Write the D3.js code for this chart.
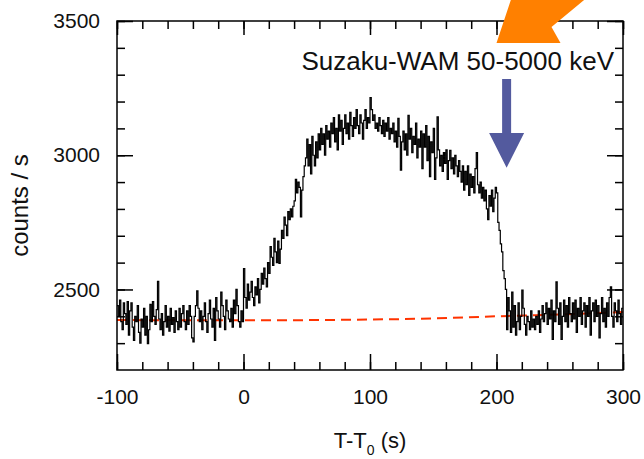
<!DOCTYPE html>
<html lang="en">
<head>
<meta charset="UTF-8">
<title>Suzaku-WAM light curve</title>
<script src="https://d3js.org/d3.v7.min.js"></script>
<style>
  body { margin: 0; background: #fff; }
  text { font-family: "Liberation Sans", Arial, sans-serif; fill: #111; }
</style>
</head>
<body>
<svg id="chart" width="644" height="459"></svg>
<script>
// light curve, 1 s bins starting at T-T0 = -100 s
const binStart = -100;
const binWidth = 1;
const counts = [
  2440, 2400, 2460, 2380, 2350, 2450, 2410, 2370, 2455, 2330,
  2420, 2450, 2360, 2310, 2400, 2380, 2440, 2340, 2300, 2390,
  2360, 2430, 2330, 2400, 2298, 2350, 2445, 2380, 2455, 2400,
  2370, 2425, 2530, 2390, 2350, 2410, 2330, 2380, 2440, 2360,
  2400, 2345, 2430, 2370, 2395, 2340, 2420, 2380, 2350, 2430,
  2360, 2410, 2440, 2380, 2350, 2420, 2370, 2440, 2400, 2320,
  2305, 2400, 2440, 2495, 2430, 2380, 2420, 2350, 2400, 2450,
  2380, 2340, 2410, 2460, 2390, 2360, 2430, 2310, 2470, 2420,
  2390, 2360, 2490, 2440, 2400, 2350, 2460, 2420, 2390, 2380,
  2430, 2360, 2460, 2410, 2500, 2440, 2380, 2360, 2420, 2380,
  2578, 2470, 2430, 2520, 2460, 2490, 2530, 2470, 2440, 2510,
  2480, 2540, 2450, 2500, 2560, 2520, 2580, 2540, 2510, 2600,
  2560, 2660, 2620, 2590, 2690, 2640, 2600, 2680, 2597, 2650,
  2720, 2690, 2770, 2740, 2700, 2790, 2760, 2800, 2770, 2810,
  2830, 2910, 2860, 2900, 2880, 2770, 2870, 2920, 2960, 2990,
  3060, 2960, 3040, 2930, 3070, 3000, 2960, 3050, 2990, 3080,
  3020, 3100, 3040, 3080, 3000, 3110, 3060, 3090, 3030, 3120,
  3080, 3140, 3050, 3100, 3020, 3150, 3090, 3130, 3040, 3100,
  3150, 3080, 3120, 3060, 3160, 3110, 3070, 3140, 3100, 3170,
  3110, 3080, 3150, 3120, 3060, 3130, 3170, 3100, 3140, 3120,
  3215, 3170, 3130, 3150, 3100, 3120, 3090, 3140, 3110, 3080,
  3130, 3070, 3120, 3090, 3140, 3060, 3100, 3080, 3120, 3050,
  3090, 3030, 3137, 3070, 2944, 3050, 3090, 3020, 3080, 3000,
  3149, 3060, 3100, 3010, 3070, 3040, 3120, 2990, 3060, 3030,
  3090, 2950, 3080, 3030, 3110, 2980, 3070, 2920, 3050, 3010,
  3100, 2910, 2990, 3143, 3020, 2960, 3000, 2940, 3010, 2970,
  3020, 2910, 2980, 3018, 2950, 2990, 2930, 3000, 2960, 2920,
  2980, 2940, 2900, 2960, 2870, 2940, 2890, 2960, 2850, 2930,
  2880, 2920, 2860, 2950, 3010, 2890, 2860, 2900, 2840, 2880,
  2830, 2870, 2800, 2760, 2850, 2810, 2870, 2790, 2840, 2880,
  2860, 2750, 2720, 2670, 2640, 2570, 2540, 2500, 2350, 2470,
  2420, 2340, 2490, 2360, 2440, 2330, 2380, 2450, 2350, 2400,
  2498, 2430, 2370, 2330, 2400, 2380, 2350, 2420, 2360, 2390,
  2350, 2400, 2370, 2420, 2340, 2390, 2440, 2380, 2410, 2450,
  2370, 2430, 2390, 2460, 2314, 2420, 2380, 2528, 2430, 2370,
  2450, 2314, 2400, 2460, 2380, 2440, 2360, 2470, 2410, 2380,
  2450, 2390, 2460, 2340, 2430, 2400, 2470, 2370, 2420, 2450,
  2360, 2440, 2400, 2470, 2330, 2420, 2450, 2380, 2460, 2400,
  2440, 2320, 2410, 2470, 2380, 2430, 2360, 2450, 2400, 2470,
  2510, 2400, 2360, 2450, 2420, 2380, 2460, 2410, 2370, 2430
];

// background model (red dashed)
const bgTime = [-100, 0, 100, 150, 200, 250, 300];
const bgCounts = [2386, 2385, 2388, 2392, 2400, 2407, 2416];

const xTicks = [-100, 0, 100, 200, 300];
const yTicks = [2500, 3000, 3500];
const label = 'Suzaku-WAM 50-5000 keV';

const width = 644, height = 459;
const margin = { top: 21, right: 21, bottom: 89, left: 117 };
const font = '"Liberation Sans", Arial, sans-serif';

const svg = d3.select('#chart');

const x = d3.scaleLinear()
  .domain([-100, 300])
  .range([margin.left, width - margin.right]);

const y = d3.scaleLinear()
  .domain([2200, 3500])
  .range([height - margin.bottom, margin.top]);

const lc = counts.map((c, i) => ({ t: binStart + i * binWidth, c }));
lc.push({ t: binStart + counts.length * binWidth, c: counts[counts.length - 1] });

// background
svg.append('path')
  .datum(bgTime.map((t, i) => ({ t, c: bgCounts[i] })))
  .attr('fill', 'none')
  .attr('stroke', '#ff3300')
  .attr('stroke-width', 2)
  .attr('stroke-dasharray', '10,6')
  .attr('d', d3.line().x(d => x(d.t)).y(d => y(d.c)).curve(d3.curveMonotoneX));

// light curve
svg.append('path')
  .datum(lc)
  .attr('fill', 'none')
  .attr('stroke', '#000')
  .attr('stroke-width', 1.2)
  .attr('d', d3.line().x(d => x(d.t)).y(d => y(d.c)).curve(d3.curveStepAfter));

// axes - ticks inward on all four sides
const x0 = x.range()[0], x1 = x.range()[1];
const y0 = y.range()[0], y1 = y.range()[1];

svg.append('g')
  .attr('transform', `translate(0,${y0})`)
  .call(d3.axisBottom(x).tickValues(d3.range(-100, 301, 20)).tickSizeInner(-8).tickSizeOuter(0).tickFormat(''))
  .call(g => g.select('.domain').remove());
svg.append('g')
  .attr('transform', `translate(0,${y0})`)
  .call(d3.axisBottom(x).tickValues(xTicks).tickSizeInner(-16).tickSizeOuter(0).tickPadding(19).tickFormat(d => d))
  .call(g => g.select('.domain').remove())
  .call(g => g.selectAll('text').attr('font-size', 21).attr('font-family', font));

svg.append('g')
  .attr('transform', `translate(0,${y1})`)
  .call(d3.axisTop(x).tickValues(d3.range(-100, 301, 20)).tickSizeInner(-8).tickSizeOuter(0).tickFormat(''))
  .call(g => g.select('.domain').remove());
svg.append('g')
  .attr('transform', `translate(0,${y1})`)
  .call(d3.axisTop(x).tickValues(xTicks).tickSizeInner(-14).tickSizeOuter(0).tickFormat(''))
  .call(g => g.select('.domain').remove());

svg.append('g')
  .attr('transform', `translate(${x0},0)`)
  .call(d3.axisLeft(y).tickValues(d3.range(2300, 3501, 100)).tickSizeInner(-8).tickSizeOuter(0).tickFormat(''))
  .call(g => g.select('.domain').remove());
svg.append('g')
  .attr('transform', `translate(${x0},0)`)
  .call(d3.axisLeft(y).tickValues(yTicks).tickSizeInner(-16).tickSizeOuter(0).tickPadding(17).tickFormat(d => d))
  .call(g => g.select('.domain').remove())
  .call(g => g.selectAll('text').attr('font-size', 21).attr('font-family', font));

svg.append('g')
  .attr('transform', `translate(${x1},0)`)
  .call(d3.axisRight(y).tickValues(d3.range(2300, 3501, 100)).tickSizeInner(-8).tickSizeOuter(0).tickFormat(''))
  .call(g => g.select('.domain').remove());
svg.append('g')
  .attr('transform', `translate(${x1},0)`)
  .call(d3.axisRight(y).tickValues(yTicks).tickSizeInner(-16).tickSizeOuter(0).tickFormat(''))
  .call(g => g.select('.domain').remove());

svg.selectAll('.tick line').attr('stroke', '#000').attr('stroke-width', 1.5);

svg.append('rect')
  .attr('x', x0).attr('y', y1)
  .attr('width', x1 - x0).attr('height', y0 - y1)
  .attr('fill', 'none')
  .attr('stroke', '#000')
  .attr('stroke-width', 1.5);

// axis titles
const xt = svg.append('text')
  .attr('x', x(100))
  .attr('y', 448)
  .attr('text-anchor', 'middle')
  .attr('font-size', 22);
xt.append('tspan').text('T-T');
xt.append('tspan').attr('font-size', 14).attr('dy', 7).text('0');
xt.append('tspan').attr('dy', -7).text(' (s)');

svg.append('text')
  .attr('transform', `translate(28,${(y0 + y1) / 2 + 10}) rotate(-90)`)
  .attr('text-anchor', 'middle')
  .attr('font-size', 24)
  .text('counts / s');

// instrument label
svg.append('text')
  .attr('x', 614)
  .attr('y', 70)
  .attr('text-anchor', 'end')
  .attr('font-size', 26)
  .text(label);

// blue arrow marking end of emission
const ax = x(208), aTop = y(3284), aHead = y(3083), aTip = y(2953);
svg.append('path')
  .attr('fill', '#535a9e')
  .attr('d', `M${ax - 4.5},${aTop} L${ax + 4.5},${aTop} L${ax + 4.5},${aHead} L${ax + 17.5},${aHead} L${ax},${aTip} L${ax - 17.5},${aHead} L${ax - 4.5},${aHead} Z`);

// orange arrow from top-right corner
const ox = x(200), oy = y(3418);
svg.append('path')
  .attr('fill', '#ff8000')
  .attr('d', `M${ox},${oy} L${ox + 64},${oy} L${ox + 55},${oy - 16} L${ox + 90},${oy - 45} L${ox + 15},${oy - 45} Z`);
</script>
</body>
</html>
